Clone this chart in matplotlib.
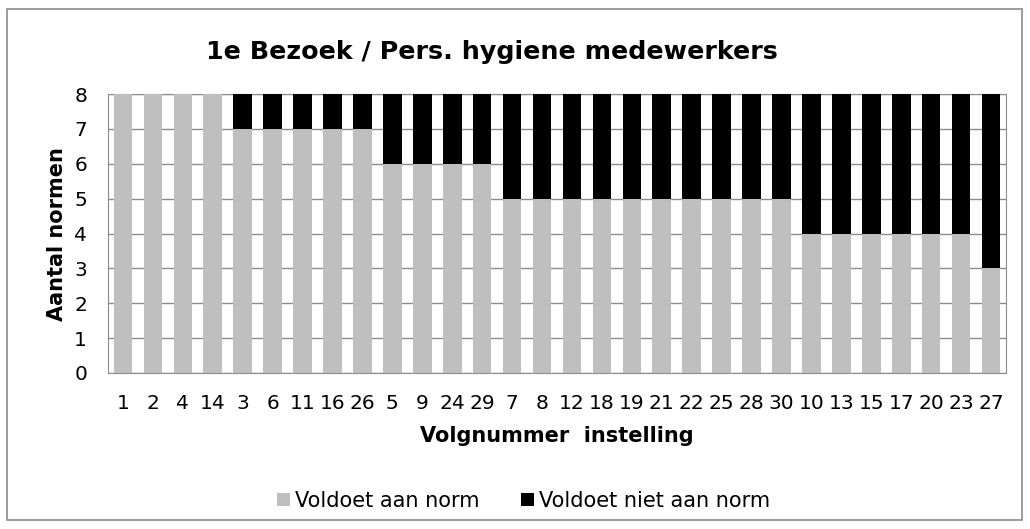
import matplotlib
matplotlib.use("Agg")
import matplotlib.pyplot as plt
from matplotlib.patches import Rectangle

categories = ["1", "2", "4", "14", "3", "6", "11", "16", "26", "5", "9", "24", "29",
              "7", "8", "12", "18", "19", "21", "22", "25", "28", "30",
              "10", "13", "15", "17", "20", "23", "27"]
voldoet = [8, 8, 8, 8, 7, 7, 7, 7, 7, 6, 6, 6, 6,
           5, 5, 5, 5, 5, 5, 5, 5, 5, 5,
           4, 4, 4, 4, 4, 4, 3]
niet_voldoet = [0, 0, 0, 0, 1, 1, 1, 1, 1, 2, 2, 2, 2,
                3, 3, 3, 3, 3, 3, 3, 3, 3, 3,
                4, 4, 4, 4, 4, 4, 5]

W, H = 1030, 529
plt.rcParams['font.family'] = ['DejaVu Sans']
fig = plt.figure(figsize=(W / 100, H / 100), dpi=100)
fig.patches.append(Rectangle((7 / W, 9 / H), 1015 / W, 511 / H, transform=fig.transFigure,
                             fill=False, edgecolor='#8c8c8c', linewidth=1.2))
ax = fig.add_axes([108 / W, 1 - 373 / H, 898 / W, 279 / H])
x = list(range(len(categories)))
ax.bar(x, voldoet, width=0.62, color='#bfbfbf', label='Voldoet aan norm', zorder=3)
ax.bar(x, niet_voldoet, width=0.62, bottom=voldoet, color='#000000',
       label='Voldoet niet aan norm', zorder=3)
ax.set_xlim(-0.5, len(categories) - 0.5)
ax.set_ylim(0, 8)
ax.set_yticks(range(0, 9))
ax.set_xticks(x)
ax.set_xticklabels(categories)
ax.tick_params(axis='both', length=0, labelsize=14.5)
ax.tick_params(axis='x', pad=15)
ax.tick_params(axis='y', pad=15)
ax.grid(axis='y', color='#8c8c8c', linewidth=1, zorder=0)
for s in ax.spines.values():
    s.set_color('#8c8c8c')

fig.text(57.5 / W, 1 - 234 / H, 'Aantal normen', rotation=90, ha='center', va='center',
         fontsize=15, fontweight='bold')
fig.text(557 / W, 1 - 436 / H, 'Volgnummer  instelling', ha='center', va='center',
         fontsize=15, fontweight='bold')
fig.text(492 / W, 1 - 52 / H, '1e Bezoek / Pers. hygiene medewerkers', ha='center', va='center',
         fontsize=18.3, fontweight='bold')
fig.legend(loc='center', bbox_to_anchor=(523.5 / W, 1 - 501 / H), ncol=2, frameon=False,
           fontsize=15, handlelength=0.62, handleheight=0.62, handletextpad=0.24,
           columnspacing=1.97, borderpad=0, borderaxespad=0)
fig.savefig('out.png', dpi=100)
